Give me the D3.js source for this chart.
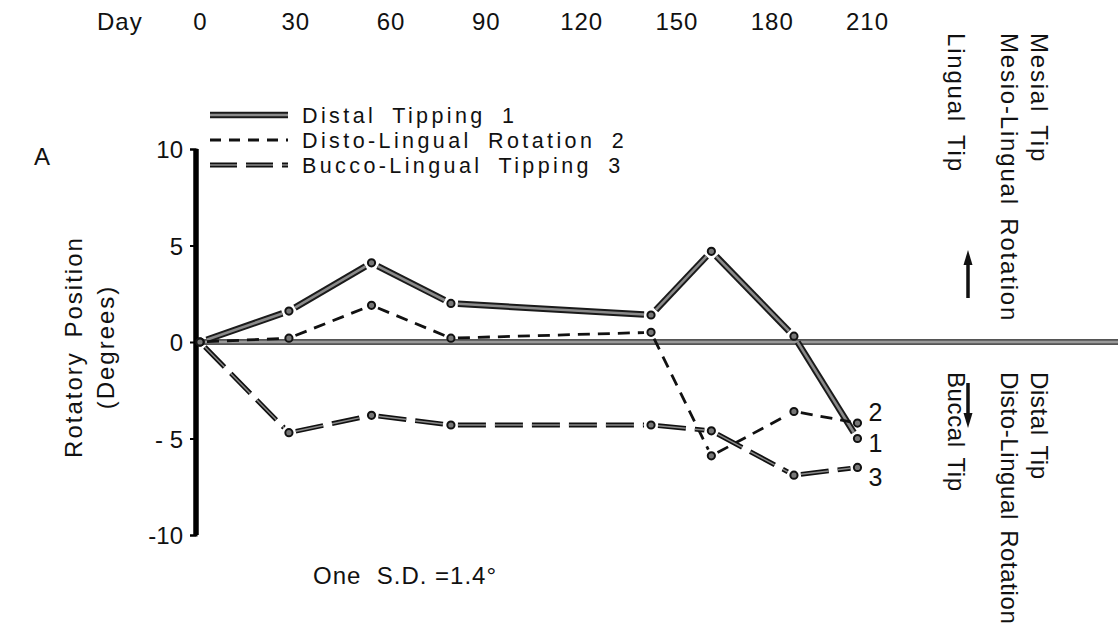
<!DOCTYPE html>
<html>
<head>
<meta charset="utf-8">
<script src="https://cdn.jsdelivr.net/npm/d3@7/dist/d3.min.js"></script>
<style>
  html, body { margin: 0; padding: 0; background: #fff; }
  svg { display: block; }
  text { font-family: "Liberation Sans", Arial, Helvetica, sans-serif; fill: #111; white-space: pre; }
</style>
</head>
<body>
<svg id="chart" width="1118" height="629"></svg>
<script>
// Measurement days for each observation
const days = [0, 28, 54, 79, 142, 161, 187, 207];

// Rotatory position (degrees) for each movement
const distalTipping = [0, 1.6, 4.1, 2.0, 1.4, 4.7, 0.3, -5.0];
const distoLingualRotation = [0, 0.2, 1.9, 0.2, 0.5, -5.9, -3.6, -4.2];
const buccoLingualTipping = [0, -4.7, -3.8, -4.3, -4.3, -4.6, -6.9, -6.5];

const seriesNames = ["Distal Tipping 1", "Disto-Lingual Rotation 2", "Bucco-Lingual Tipping 3"];
const seriesTags = ["1", "2", "3"];

// Axis ticks
const dayTicks = [0, 30, 60, 90, 120, 150, 180, 210];
const degreeTicks = [10, 5, 0, -5, -10];
const degreeTickLabels = ["10", "5", "0", "- 5", "-10"];

const upperLabels = ["Lingual Tip", "Mesio-Lingual Rotation", "Mesial Tip"];
const lowerLabels = ["Buccal Tip", "Disto-Lingual Rotation", "Distal Tip"];

const svg = d3.select("#chart");
const W = 1118;
const FS = 24;

const x = d3.scaleLinear().domain([0, 210]).range([200, 867]);
const y = d3.scaleLinear().domain([-10, 10]).range([535, 149]);

// Day scale along the top
const topAxis = svg.append("g")
  .attr("transform", "translate(0,30)")
  .call(d3.axisTop(x).tickValues(dayTicks).tickSize(0).tickPadding(0));
topAxis.select(".domain").remove();
topAxis.selectAll("text")
  .attr("font-size", FS).attr("fill", "#111")
  .style("font-family", "Liberation Sans, Arial, sans-serif")
  .style("letter-spacing", "1px");
svg.append("text").attr("x", 97).attr("y", 30).attr("font-size", FS)
  .style("letter-spacing", "1px").text("Day");

// Panel letter
svg.append("text").attr("x", 34).attr("y", 165).attr("font-size", FS).text("A");

// Zero reference line running off to the right
const zeroY = y(0);
svg.append("line").attr("x1", x(0) - 4).attr("x2", W).attr("y1", zeroY).attr("y2", zeroY)
  .attr("stroke", "#555").attr("stroke-width", 6);
svg.append("line").attr("x1", x(0) - 4).attr("x2", W).attr("y1", zeroY).attr("y2", zeroY)
  .attr("stroke", "#999").attr("stroke-width", 2.5);

// Degree axis
const yAxis = svg.append("g")
  .attr("transform", `translate(${x(0) - 4},0)`)
  .call(d3.axisLeft(y).tickValues(degreeTicks).tickSize(6).tickSizeOuter(6).tickPadding(7)
    .tickFormat((d, i) => degreeTickLabels[i]));
yAxis.select(".domain").attr("stroke", "#000").attr("stroke-width", 2);
yAxis.append("line").attr("x1", 0).attr("x2", 0).attr("y1", y(10)).attr("y2", y(-10))
  .attr("stroke", "#000").attr("stroke-width", 5.5);
yAxis.selectAll(".tick line").attr("stroke", "#000").attr("stroke-width", 2);
yAxis.selectAll(".tick text")
  .attr("font-size", FS).attr("fill", "#111").attr("dy", "0.36em")
  .style("font-family", "Liberation Sans, Arial, sans-serif");

// Y title
const yTitle = svg.append("g").attr("transform", "translate(0,347)");
yTitle.append("text").attr("transform", "translate(82,0) rotate(-90)")
  .attr("text-anchor", "middle").attr("font-size", FS)
  .style("letter-spacing", "2px").style("word-spacing", "5px").text("Rotatory Position");
yTitle.append("text").attr("transform", "translate(114,0) rotate(-90)")
  .attr("text-anchor", "middle").attr("font-size", FS)
  .style("letter-spacing", "2px").text("(Degrees)");

// Line styles per movement
const styles = [
  { layers: [{ stroke: "#1a1a1a", width: 6.5, dash: null }, { stroke: "#8a8a8a", width: 2.6, dash: null }] },
  { layers: [{ stroke: "#111", width: 2.8, dash: "12,8" }] },
  { layers: [{ stroke: "#111", width: 4.8, dash: "28,9" }, { stroke: "#8a8a8a", width: 1.5, dash: "28,9" }] }
];
const legendDash = [null, "11,8", "27,9"];
const allSeries = [distalTipping, distoLingualRotation, buccoLingualTipping];

const gap = 7;
allSeries.forEach((vals, si) => {
  const g = svg.append("g");
  const pts = vals.map((v, i) => [x(days[i]), y(v)]);
  for (let i = 0; i < pts.length - 1; i++) {
    const [x1, y1] = pts[i], [x2, y2] = pts[i + 1];
    const len = Math.hypot(x2 - x1, y2 - y1);
    const ux = (x2 - x1) / len, uy = (y2 - y1) / len;
    const a = [x1 + ux * gap, y1 + uy * gap], b = [x2 - ux * gap, y2 - uy * gap];
    styles[si].layers.forEach(l => {
      g.append("line")
        .attr("x1", a[0]).attr("y1", a[1]).attr("x2", b[0]).attr("y2", b[1])
        .attr("stroke", l.stroke).attr("stroke-width", l.width)
        .attr("stroke-dasharray", l.dash);
    });
  }
  g.selectAll("circle").data(vals).join("circle")
    .attr("cx", (d, i) => x(days[i])).attr("cy", d => y(d)).attr("r", 3.6)
    .attr("fill", "#777").attr("stroke", "#111").attr("stroke-width", 2);
});

// End tags beside the last observation
const tagOffsets = [4, -11, 10];
allSeries.forEach((vals, si) => {
  const last = vals.length - 1;
  svg.append("text")
    .attr("x", x(days[last]) + 11).attr("y", y(vals[last]) + tagOffsets[si])
    .attr("dy", "0.36em").attr("font-size", 25).text(seriesTags[si]);
});

// Legend
const legendRows = [115, 140, 165];
seriesNames.forEach((name, si) => {
  const ly = legendRows[si];
  styles[si].layers.forEach(l => {
    svg.append("line").attr("x1", 210).attr("x2", 288).attr("y1", ly).attr("y2", ly)
      .attr("stroke", l.stroke).attr("stroke-width", l.width)
      .attr("stroke-dasharray", legendDash[si]);
  });
  svg.append("text").attr("x", 302).attr("y", ly).attr("dy", "0.36em")
    .attr("font-size", 21.5).style("letter-spacing", "3.4px").style("word-spacing", "7px")
    .text(name);
});

// Direction labels to the right
const colX = [948, 1001, 1031];
upperLabels.forEach((t, i) => {
  svg.append("text").attr("transform", `translate(${colX[i]},33) rotate(90)`)
    .attr("font-size", FS).style("letter-spacing", "1.8px").style("word-spacing", "4px").text(t);
});
lowerLabels.forEach((t, i) => {
  svg.append("text").attr("transform", `translate(${colX[i]},${zeroY + 30}) rotate(90)`)
    .attr("font-size", FS).style("letter-spacing", "0.6px").style("word-spacing", "3px").text(t);
});

// Direction arrows
function arrow(xp, yFrom, yTo) {
  const dir = Math.sign(yTo - yFrom);
  svg.append("line").attr("x1", xp).attr("x2", xp).attr("y1", yFrom).attr("y2", yTo - dir * 10)
    .attr("stroke", "#111").attr("stroke-width", 3.5);
  svg.append("path")
    .attr("d", `M${xp},${yTo} L${xp - 4.5},${yTo - dir * 15} L${xp + 4.5},${yTo - dir * 15} Z`)
    .attr("fill", "#111");
}
arrow(968, 298, 250);
arrow(968, 383, 428);

// Standard deviation note
svg.append("text").attr("x", 313).attr("y", 584).attr("font-size", FS)
  .style("letter-spacing", "1px").text("One  S.D. =1.4°");
</script>
</body>
</html>
